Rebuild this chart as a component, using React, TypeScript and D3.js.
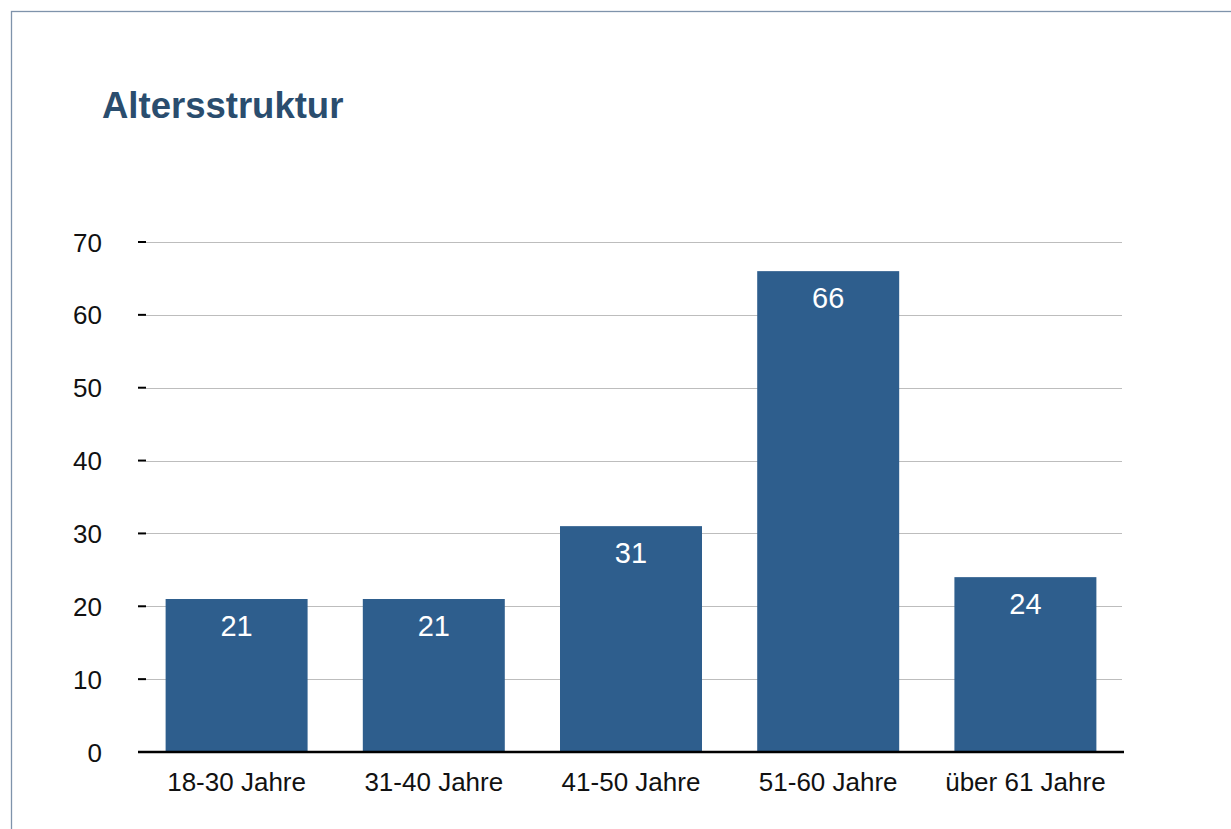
import React from "react";
import * as d3 from "d3";

const categories = ["18-30 Jahre", "31-40 Jahre", "41-50 Jahre", "51-60 Jahre", "über 61 Jahre"];
const values = [21, 21, 31, 66, 24];
const yTicks = [0, 10, 20, 30, 40, 50, 60, 70];
const title = "Altersstruktur";

const W = 1231;
const H = 829;
const FONT = "'Liberation Sans', Arial, Helvetica, sans-serif";

export default function App() {
  const x = d3.scaleBand<string>().domain(categories).range([138, 1124]).paddingInner(0.28).paddingOuter(0.14);
  const y = d3.scaleLinear().domain([0, 70]).range([752, 242]);
  const gridX0 = 146;
  const gridX1 = 1122;

  return (
    <svg width={W} height={H} style={{ position: "absolute", left: 0, top: 0, background: "#fff" }}>
      <rect x={11.5} y={11.5} width={1400} height={1000} fill="#fff" stroke="#7f93ab" strokeWidth={1.3} />
      <text x={102} y={118} fontFamily={FONT} fontWeight="bold" fontSize={36.5} fill="#2a4d6e">
        {title}
      </text>
      {yTicks.map((t) => (
        <g key={t}>
          {t > 0 && (
            <line x1={gridX0} x2={gridX1} y1={Math.round(y(t)) + 0.5} y2={Math.round(y(t)) + 0.5} stroke="#bdbdbd" strokeWidth={1} />
          )}
          <line x1={138} x2={146} y1={y(t)} y2={y(t)} stroke="#000" strokeWidth={2} />
          <text x={102} y={y(t) + 9.5} textAnchor="end" fontFamily={FONT} fontSize={26} fill="#111">
            {t}
          </text>
        </g>
      ))}
      {categories.map((c, i) => (
        <g key={c}>
          <rect x={x(c)} y={y(values[i])} width={x.bandwidth()} height={y(0) - y(values[i])} fill="#2e5e8d" />
          <text
            x={(x(c) as number) + x.bandwidth() / 2}
            y={y(values[i]) + 37}
            textAnchor="middle"
            fontFamily={FONT}
            fontSize={29}
            fill="#fff"
          >
            {values[i]}
          </text>
          <text
            x={(x(c) as number) + x.bandwidth() / 2}
            y={791}
            textAnchor="middle"
            fontFamily={FONT}
            fontSize={26}
            fill="#111"
          >
            {c}
          </text>
        </g>
      ))}
      <line x1={138} x2={1124} y1={752} y2={752} stroke="#000" strokeWidth={2.5} />
    </svg>
  );
}
